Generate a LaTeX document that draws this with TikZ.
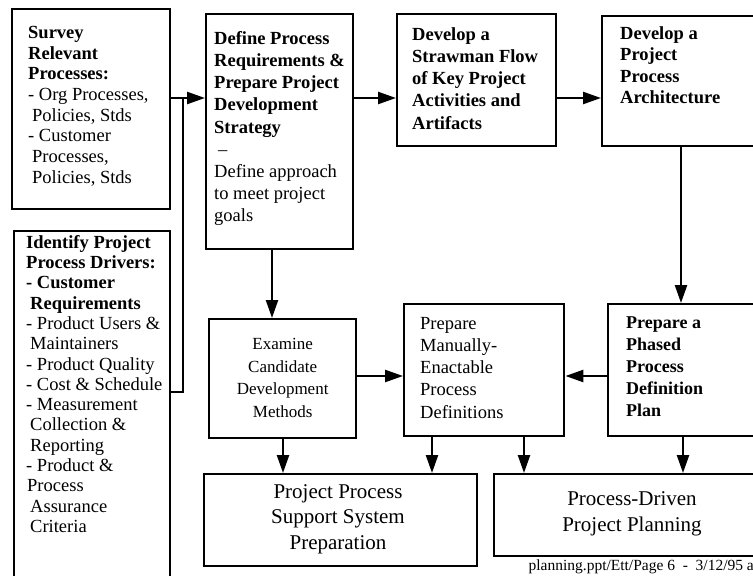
\documentclass[tikz,border=0pt]{standalone}
\usepackage{fontspec}
\setmainfont{Liberation Serif}
\usetikzlibrary{arrows.meta}
\begin{document}
\begin{tikzpicture}[x=1pt,y=-1pt,
  box/.style={draw, line width=2.4pt, rectangle, anchor=north west, inner sep=0pt},
  conn/.style={line width=2.4pt},
  arr/.style={conn, -{Triangle[length=18pt,width=12pt]}},
  txt/.style={anchor=north west, align=left, inner sep=0pt},
  ctxt/.style={align=center, inner sep=0pt, font=\fontsize{17}{22.5}\selectfont},
  btxt/.style={align=center, inner sep=0pt, font=\fontsize{21}{25.5}\selectfont}]
\useasboundingbox (0,0) rectangle (753,576);
\clip (0,0) rectangle (753,576);
\fill[white] (0,0) rectangle (753,576);

% boxes
\node[box, minimum width=158pt, minimum height=200pt] (survey)   at (11,8)   {};
\node[box, minimum width=156pt, minimum height=370pt] (identify) at (13,230) {};
\node[box, minimum width=147pt, minimum height=235pt] (define)   at (205,13) {};
\node[box, minimum width=159pt, minimum height=132pt] (straw)    at (396,13) {};
\node[box, minimum width=170pt, minimum height=130pt] (arch)     at (601,15) {};
\node[box, minimum width=147pt, minimum height=119pt] (examine)  at (208,318) {};
\node[box, minimum width=160pt, minimum height=132pt] (manual)   at (403,303) {};
\node[box, minimum width=170pt, minimum height=132pt] (phased)   at (607,303) {};
\node[box, minimum width=273pt, minimum height=92pt]  (pps)      at (203,473) {};
\node[box, minimum width=280pt, minimum height=82pt]  (pdriven)  at (493,473) {};

% texts
\node[txt, font=\fontsize{18.5}{20.7}\selectfont] (tsurvey) at (28,26) {\textbf{Survey}\\\textbf{Relevant}\\\textbf{Processes:}\\- Org Processes,\\\hspace*{4pt}Policies, Stds\\- Customer\\\hspace*{4pt}Processes,\\\hspace*{4pt}Policies, Stds};
\node[txt, font=\fontsize{18.5}{20.3}\selectfont] (tidentify) at (26,235) {\textbf{Identify Project}\\\textbf{Process Drivers:}\\\textbf{- Customer}\\\hspace*{4pt}\textbf{Requirements}\\- Product Users \&\\\hspace*{4pt}Maintainers\\- Product Quality\\- Cost \& Schedule\\- Measurement\\\hspace*{4pt}Collection \&\\\hspace*{4pt}Reporting\\- Product \&\\\hspace*{1pt}Process\\\hspace*{4pt}Assurance\\\hspace*{4pt}Criteria};
\node[txt, font=\fontsize{18.5}{22.2}\selectfont] (tdefine) at (214,31) {\textbf{Define Process}\\\textbf{Requirements \&}\\\textbf{Prepare Project}\\\textbf{Development}\\\textbf{Strategy}\\\hspace*{4pt}--\\Define approach\\to meet project\\goals};
\node[txt, font=\fontsize{18.5}{22.3}\selectfont] (tstraw) at (412,27) {\textbf{Develop a}\\\textbf{Strawman Flow}\\\textbf{of Key Project}\\\textbf{Activities and}\\\textbf{Artifacts}};
\node[txt, font=\fontsize{18.5}{21.5}\selectfont] (tarch) at (620,26) {\textbf{Develop a}\\\textbf{Project}\\\textbf{Process}\\\textbf{Architecture}};
\node[ctxt] (texamine) at ([yshift=1pt]examine.center) {Examine\\Candidate\\Development\\Methods};
\node[txt, font=\fontsize{18.5}{22.2}\selectfont] (tmanual) at (420,317) {Prepare\\Manually-\\Enactable\\Process\\Definitions};
\node[txt, font=\fontsize{18}{22}\selectfont] (tphased) at (626,317) {\textbf{Prepare a}\\\textbf{Phased}\\\textbf{Process}\\\textbf{Definition}\\\textbf{Plan}};
\node[btxt] (tpps) at (338,519) {Project Process\\Support System\\Preparation};
\node[btxt] (tpdriven) at (632,514) {Process-Driven\\Project Planning};
\node[anchor=east, inner sep=0pt, font=\fontsize{15.5}{18}\selectfont] (footer) at (754,567) {planning.ppt/Ett/Page 6\ \ -\ \ 3/12/95 a};

% connector levels
\coordinate (rowtop) at (0,98);
\coordinate (rowmid) at (0,376);
\coordinate (busx)   at (183,0);
\coordinate (busin)  at (0,392);
\coordinate (cdef)   at (272,0);
\coordinate (carch)  at (681,0);
\coordinate (cexam)  at (283,0);
\coordinate (cman1)  at (432,0);
\coordinate (cman2)  at (524,0);
\coordinate (cphas)  at (683,0);

% connectors
\draw[conn] (identify.east |- busin) -| (busx |- rowtop);
\draw[arr] (survey.east |- rowtop) -- (define.west |- rowtop);
\draw[arr] (define.east |- rowtop) -- (straw.west |- rowtop);
\draw[arr] (straw.east |- rowtop) -- (arch.west |- rowtop);
\draw[arr] (arch.south -| carch) -- (phased.north -| carch);
\draw[arr] (define.south -| cdef) -- (examine.north -| cdef);
\draw[arr] (examine.east |- rowmid) -- (manual.west |- rowmid);
\draw[arr] (phased.west |- rowmid) -- (manual.east |- rowmid);
\draw[arr] (examine.south -| cexam) -- (pps.north -| cexam);
\draw[arr] (manual.south -| cman1) -- (pps.north -| cman1);
\draw[arr] (manual.south -| cman2) -- (pdriven.north -| cman2);
\draw[arr] (phased.south -| cphas) -- (pdriven.north -| cphas);
\end{tikzpicture}
\end{document}
